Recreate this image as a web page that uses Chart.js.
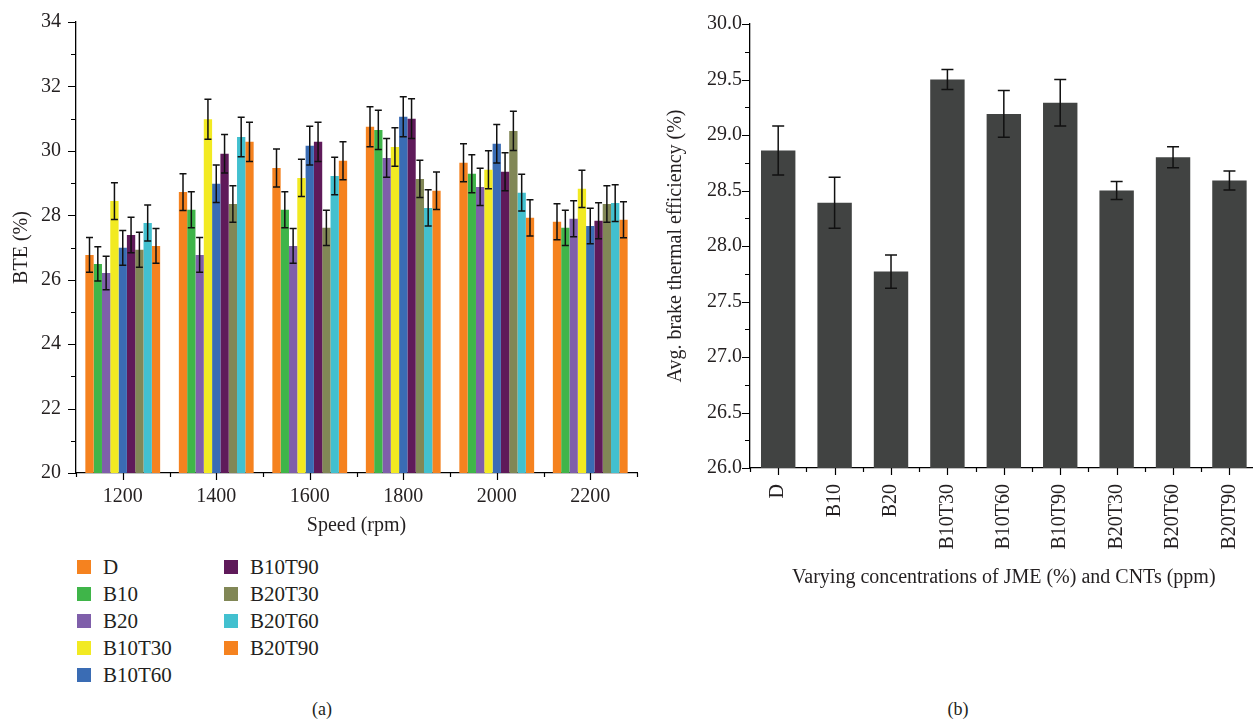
<!DOCTYPE html>
<html>
<head>
<meta charset="utf-8">
<script src="https://cdn.jsdelivr.net/npm/chart.js@4.4.1/dist/chart.umd.min.js"></script>
<style>
  html, body { margin: 0; padding: 0; background: #fff; overflow: hidden; }
  body { position: relative; width: 1253px; height: 721px; font-family: "Liberation Serif", serif; color: #231f20; }
  .box { position: absolute; }
  #legend { position: absolute; left: 77px; top: 560px; width: 300px; height: 140px; }
  .item { position: absolute; height: 14px; font-size: 21px; line-height: 14px; white-space: nowrap; }
  .item span.sw { position: absolute; left: 0; top: 0; width: 14px; height: 14px; }
  .item span.tx { position: absolute; left: 26px; top: 0; }
  .cap { position: absolute; top: 699px; font-size: 18px; width: 40px; text-align: center; }
</style>
</head>
<body>
<div class="box" style="left:0;top:0;width:650px;height:545px"><canvas id="bteChart"></canvas></div>
<div class="box" style="left:650px;top:0;width:620px;height:600px"><canvas id="avgChart"></canvas></div>
<div id="legend"></div>
<div class="cap" style="left:302px">(a)</div>
<div class="cap" style="left:938px">(b)</div>
<script>
// engine speeds (x categories, chart a)
const speeds = ['1200', '1400', '1600', '1800', '2000', '2200'];
// fuel blends
const blends = ['D', 'B10', 'B20', 'B10T30', 'B10T60', 'B10T90', 'B20T30', 'B20T60', 'B20T90'];
const blendColors = ['#f5821f', '#3fb549', '#7f5faa', '#f2ea22', '#3a6cb4', '#5f1a5a', '#818756', '#42c0cf', '#f5821f'];

// BTE (%) per blend, one value per speed
const bteD      = [26.77, 28.72, 29.47, 30.75, 29.63, 27.80];
const bteB10    = [26.49, 28.17, 28.17, 30.65, 29.29, 27.61];
const bteB20    = [26.21, 26.77, 27.05, 29.78, 28.88, 27.89];
const bteB10T30 = [28.44, 30.98, 29.16, 30.12, 29.41, 28.82];
const bteB10T60 = [26.99, 28.98, 30.16, 31.06, 30.22, 27.67];
const bteB10T90 = [27.39, 29.91, 30.28, 31.00, 29.35, 27.83];
const bteB20T30 = [26.93, 28.35, 27.61, 29.13, 30.62, 28.35];
const bteB20T60 = [27.76, 30.43, 29.22, 28.23, 28.70, 28.38];
const bteB20T90 = [27.05, 30.28, 29.69, 28.76, 27.92, 27.86];

// error bar half-heights
const errD      = [0.54, 0.57, 0.59, 0.62, 0.59, 0.56];
const errB10    = [0.53, 0.56, 0.56, 0.61, 0.59, 0.55];
const errB20    = [0.52, 0.54, 0.54, 0.60, 0.58, 0.56];
const errB10T30 = [0.57, 0.62, 0.58, 0.60, 0.59, 0.58];
const errB10T60 = [0.54, 0.58, 0.60, 0.62, 0.60, 0.55];
const errB10T90 = [0.55, 0.60, 0.61, 0.62, 0.59, 0.56];
const errB20T30 = [0.54, 0.57, 0.55, 0.58, 0.61, 0.57];
const errB20T60 = [0.56, 0.61, 0.58, 0.56, 0.57, 0.57];
const errB20T90 = [0.54, 0.61, 0.59, 0.58, 0.56, 0.56];

// chart b: average BTE per blend
const avgBte = [28.86, 28.39, 27.77, 29.50, 29.19, 29.29, 28.50, 28.80, 28.59];
const avgErr = [0.22, 0.23, 0.15, 0.09, 0.21, 0.21, 0.08, 0.095, 0.085];

const bteSeries = [bteD, bteB10, bteB20, bteB10T30, bteB10T60, bteB10T90, bteB20T30, bteB20T60, bteB20T90];
const errSeries = [errD, errB10, errB20, errB10T30, errB10T60, errB10T90, errB20T30, errB20T60, errB20T90];

Chart.defaults.font.family = '"Liberation Serif", serif';
Chart.defaults.color = '#231f20';

// error bars drawn on top of bars
const errorBars = {
    id: 'errorBars',
    afterDatasetsDraw(chart, args, opts) {
        const ctx = chart.ctx;
        const y = chart.scales.y;
        ctx.save();
        ctx.strokeStyle = '#111';
        ctx.lineWidth = opts.width;
        chart.data.datasets.forEach((ds, di) => {
            const meta = chart.getDatasetMeta(di);
            meta.data.forEach((bar, i) => {
                const v = ds.data[i], e = ds.errors[i];
                const t = y.getPixelForValue(v + e);
                const b = y.getPixelForValue(v - e);
                ctx.beginPath();
                ctx.moveTo(bar.x, t); ctx.lineTo(bar.x, b);
                ctx.moveTo(bar.x - opts.cap, t); ctx.lineTo(bar.x + opts.cap, t);
                ctx.moveTo(bar.x - opts.cap, b); ctx.lineTo(bar.x + opts.cap, b);
                ctx.stroke();
            });
        });
        ctx.restore();
    }
};

// outward tick marks, major and minor
const axisTicks = {
    id: 'axisTicks',
    afterDraw(chart, args, opts) {
        const ctx = chart.ctx;
        const x = chart.scales.x, y = chart.scales.y;
        ctx.save();
        ctx.strokeStyle = '#000';
        ctx.lineWidth = 1.2;
        ctx.beginPath();
        const steps = Math.round((y.max - y.min) / opts.yMinor);
        for (let k = 0; k <= steps; k++) {
            const v = y.min + k * opts.yMinor;
            const py = Math.round(y.getPixelForValue(v)) + 0.5;
            const r = v / opts.yMajor;
            const len = Math.abs(r - Math.round(r)) < 1e-6 ? 8 : 5;
            ctx.moveTo(y.right, py); ctx.lineTo(y.right - len, py);
        }
        const n = chart.data.labels.length;
        for (let i = 0; i < n; i++) {
            const px = Math.round(x.getPixelForValue(i)) + 0.5;
            ctx.moveTo(px, x.top); ctx.lineTo(px, x.top + 7);
        }
        for (let i = 0; i <= n; i++) {
            const px = Math.round(x.getPixelForValue(i - 0.5)) + 0.5;
            ctx.moveTo(px, x.top); ctx.lineTo(px, x.top + 4);
        }
        ctx.stroke();
        ctx.restore();
    }
};

// chart (a)
new Chart(document.getElementById('bteChart'), {
    type: 'bar',
    data: {
        labels: speeds,
        datasets: blends.map((name, i) => ({
            label: name,
            data: bteSeries[i],
            errors: errSeries[i],
            backgroundColor: blendColors[i],
            borderWidth: 0,
            categoryPercentage: 0.8,
            barPercentage: 1.0
        }))
    },
    options: {
        responsive: true,
        maintainAspectRatio: false,
        animation: false,
        layout: { padding: { top: 22, right: 13, bottom: 0, left: 0 } },
        plugins: {
            legend: { display: false },
            tooltip: { enabled: false },
            errorBars: { width: 1.5, cap: 3.5 },
            axisTicks: { yMajor: 2, yMinor: 1 }
        },
        scales: {
            x: {
                grid: { display: false, drawTicks: false },
                border: { display: true, color: '#000', width: 1.3 },
                ticks: { font: { size: 20 }, padding: 12, maxRotation: 0 },
                title: { display: true, text: 'Speed (rpm)', font: { size: 20 }, padding: { top: 0, bottom: 7 } },
                afterFit: s => { s.height = 72; }
            },
            y: {
                min: 20, max: 34,
                grid: { display: false, drawTicks: false },
                border: { display: true, color: '#000', width: 1.3 },
                ticks: { stepSize: 2, font: { size: 20, lineHeight: 1 }, padding: 15 },
                title: { display: true, text: 'BTE (%)', font: { size: 20 }, padding: { top: 10, bottom: 0 } },
                afterFit: s => { s.width = 76; s.paddingTop = 0; }
            }
        }
    },
    plugins: [errorBars, axisTicks]
});

// chart (b)
new Chart(document.getElementById('avgChart'), {
    type: 'bar',
    data: {
        labels: blends,
        datasets: [{
            label: 'Avg. BTE',
            data: avgBte,
            errors: avgErr,
            backgroundColor: '#414342',
            borderWidth: 0,
            categoryPercentage: 0.61,
            barPercentage: 1.0
        }]
    },
    options: {
        responsive: true,
        maintainAspectRatio: false,
        animation: false,
        layout: { padding: { top: 24, right: 10, bottom: 0, left: 0 } },
        plugins: {
            legend: { display: false },
            tooltip: { enabled: false },
            errorBars: { width: 1.5, cap: 6 },
            axisTicks: { yMajor: 0.5, yMinor: 0.25 }
        },
        scales: {
            x: {
                grid: { display: false, drawTicks: false },
                border: { display: true, color: '#000', width: 1.3 },
                ticks: { font: { size: 20 }, padding: 16, minRotation: 90, maxRotation: 90, autoSkip: false },
                title: { display: true, text: 'Varying concentrations of JME (%) and CNTs (ppm)', font: { size: 20 }, padding: { top: 0, bottom: 10 } },
                afterFit: s => { s.height = 132; }
            },
            y: {
                min: 26, max: 30,
                grid: { display: false, drawTicks: false },
                border: { display: true, color: '#000', width: 1.3 },
                ticks: { stepSize: 0.5, font: { size: 20 }, padding: 8, callback: v => Number(v).toFixed(1) },
                title: { display: true, text: 'Avg. brake thermal efficiency (%)', font: { size: 20 }, padding: { top: 14, bottom: 0 } },
                afterFit: s => { s.width = 100; }
            }
        }
    },
    plugins: [errorBars, axisTicks]
});

// legend, two columns filled top to bottom
const legend = document.getElementById('legend');
blends.forEach((name, i) => {
    const col = i < 5 ? 0 : 1;
    const row = i < 5 ? i : i - 5;
    const item = document.createElement('div');
    item.className = 'item';
    item.style.left = (col * 147) + 'px';
    item.style.top = (row * 27) + 'px';
    item.innerHTML = '<span class="sw" style="background:' + blendColors[i] + '"></span><span class="tx">' + name + '</span>';
    legend.appendChild(item);
});
</script>
</body>
</html>
